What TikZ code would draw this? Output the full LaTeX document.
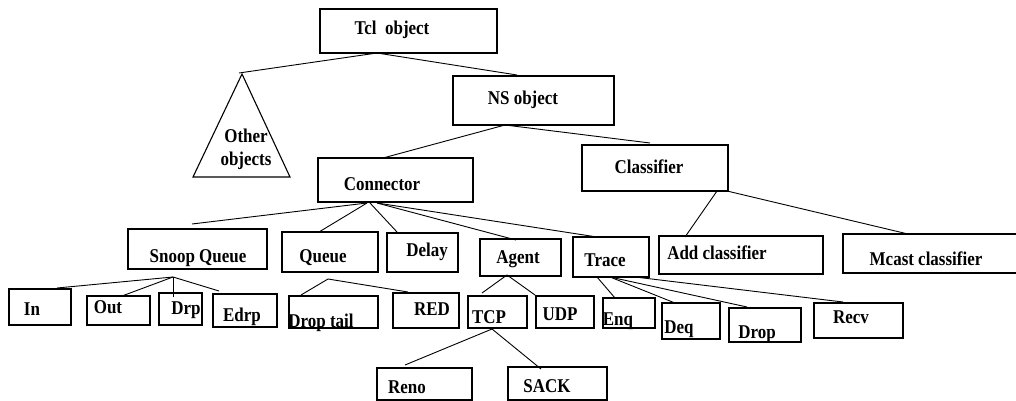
\documentclass[tikz,border=0pt]{standalone}
\usepackage{fontspec}
\setmainfont{Liberation Serif}[FakeStretch=0.87]
\usetikzlibrary{fit}
\tikzset{
  box/.style={draw=black, line width=1.1pt, inner sep=0pt},
  lbl/.style={anchor=base, inner sep=0pt, font=\fontsize{19.5}{20}\selectfont\bfseries, text=black},
  link/.style={draw=black, line width=0.9pt},
}
\begin{document}
\begin{tikzpicture}[x=1pt, y=-1pt]
\useasboundingbox (0,0) rectangle (1016,401);
\clip (0,0) rectangle (1016,401);

% ---------- boxes ----------
\node[box, fit={(320,9) (497,53)}]   (tcl) {};
\node[box, fit={(453,76) (614,125)}] (ns) {};
\node[box, fit={(318,158) (473,202)}] (conn) {};
\node[box, fit={(582,145) (728,191)}] (clsf) {};

\node[box, fit={(128,229) (267,269)}] (snoop) {};
\node[box, fit={(282,232) (378,272)}] (queue) {};
\node[box, fit={(387,233) (458,272)}] (delay) {};
\node[box, fit={(480,239) (561,276)}] (agent) {};
\node[box, fit={(573,237) (649,277)}] (trace) {};
\node[box, fit={(659,236) (823,274)}] (addc) {};
\node[box, fit={(843,234) (1030,273)}] (mcast) {};

\node[box, fit={(9,289) (71,325)}]    (in) {};
\node[box, fit={(87,296) (150,325)}]  (out) {};
\node[box, fit={(159,293) (202,325)}] (drp) {};
\node[box, fit={(213,294) (277,327)}] (edrp) {};
\node[box, fit={(289,296) (378,328)}] (droptail) {};
\node[box, fit={(393,293) (459,328)}] (red) {};
\node[box, fit={(468,296) (527,328)}] (tcp) {};
\node[box, fit={(536,296) (594,328)}] (udp) {};
\node[box, fit={(603,298) (655,328)}] (enq) {};
\node[box, fit={(662,303) (720,339)}] (deq) {};
\node[box, fit={(729,308) (801,342)}] (drop) {};
\node[box, fit={(814,303) (903,338)}] (recv) {};
\node[box, fit={(377,368) (472,400)}] (reno) {};
\node[box, fit={(508,367) (607,400)}] (sack) {};

% the "other objects" triangle
\coordinate (oth-apex) at (242,74);
\coordinate (oth-l) at (193,177);
\coordinate (oth-r) at (290,177);
\draw[line width=1.1pt, line join=miter] (oth-apex) -- (oth-l) -- (oth-r) -- cycle;

% ---------- labels ----------
\node[lbl] (tcl-t)   at (392,35)  {Tcl\ \ object};
\node[lbl] (ns-t)    at (523,105) {NS object};
\node[lbl] (oth-t1)  at (246,142) {Other};
\node[lbl] (oth-t2)  at (246,165) {objects};
\node[lbl] (conn-t)  at (382,190) {Connector};
\node[lbl] (clsf-t)  at (649,173) {Classifier};

\node[lbl] (snoop-t) at (198,262) {Snoop Queue};
\node[lbl] (queue-t) at (323,262) {Queue};
\node[lbl] (delay-t) at (427,256) {Delay};
\node[lbl] (agent-t) at (518,263) {Agent};
\node[lbl] (trace-t) at (605,266) {Trace};
\node[lbl] (addc-t)  at (717,259) {Add classifier};
\node[lbl] (mcast-t) at (926,265) {Mcast classifier};

\node[lbl] (in-t)    at (32,315)  {In};
\node[lbl] (out-t)   at (108,313) {Out};
\node[lbl] (drp-t)   at (186,314) {Drp};
\node[lbl] (edrp-t)  at (242,321) {Edrp};
\node[lbl] (dt-t)    at (321,327) {Drop tail};
\node[lbl] (red-t)   at (432,315) {RED};
\node[lbl] (tcp-t)   at (489,323) {TCP};
\node[lbl] (udp-t)   at (560,320) {UDP};
\node[lbl] (enq-t)   at (618,325) {Enq};
\node[lbl] (deq-t)   at (679,333) {Deq};
\node[lbl] (drop-t)  at (757,338) {Drop};
\node[lbl] (recv-t)  at (851,323) {Recv};
\node[lbl] (reno-t)  at (407,393) {Reno};
\node[lbl] (sack-t)  at (547,392) {SACK};

% ---------- junction points ----------
\coordinate (tcl-j)   at (377,53);
\coordinate (oth-j)   at (239,73);
\coordinate (ns-in)   at (517,75);
\coordinate (ns-j)    at (505,125);
\coordinate (conn-in) at (383,158);
\coordinate (clsf-in) at (650,143);
\coordinate (conn-j1) at (367,203);
\coordinate (conn-j2) at (370,203);
\coordinate (conn-j3) at (377,203);
\coordinate (snoop-in) at (192,224);
\coordinate (queue-in) at (319,232);
\coordinate (delay-in) at (397,232);
\coordinate (agent-in) at (516,240);
\coordinate (trace-in) at (597,237);
\coordinate (clsf-j1) at (717,191);
\coordinate (clsf-j2) at (727,191);
\coordinate (addc-in) at (685,237);
\coordinate (mcast-in) at (908,234);
\coordinate (snoop-j) at (173,277);
\coordinate (in-in)   at (57,288);
\coordinate (out-in)  at (122,296);
\coordinate (drp-in)  at (173,297);
\coordinate (edrp-in) at (219,291);
\coordinate (queue-j) at (328,279);
\coordinate (dt-in)   at (301,295);
\coordinate (red-in)  at (408,292);
\coordinate (agent-j) at (507,275);
\coordinate (tcp-in)  at (482,293);
\coordinate (udp-in)  at (535,295);
\coordinate (tcp-j)   at (492,329);
\coordinate (reno-in) at (405,365);
\coordinate (sack-in) at (541,369);
\coordinate (trace-j1) at (597,277);
\coordinate (trace-j2) at (610,277);
\coordinate (trace-j3) at (635,277);
\coordinate (enq-in)  at (615,298);
\coordinate (deq-in)  at (675,303);
\coordinate (drop-in) at (747,307);
\coordinate (recv-in) at (843,302);

% ---------- connectors ----------
\path[link] (oth-j) -- (tcl-j) -- (ns-in);
\path[link] (conn-in) -- (ns-j) -- (clsf-in);
\path[link] (conn-j1) -- (snoop-in);
\path[link] (conn-j1) -- (queue-in);
\path[link] (conn-j2) -- (delay-in);
\path[link] (conn-j3) -- (agent-in);
\path[link] (conn-j3) -- (trace-in);
\path[link] (clsf-j1) -- (addc-in);
\path[link] (clsf-j2) -- (mcast-in);
\path[link] (snoop-j) -- (in-in);
\path[link] (snoop-j) -- (out-in);
\path[link] (snoop-j) -- (drp-in);
\path[link] (snoop-j) -- (edrp-in);
\path[link] (queue-j) -- (dt-in);
\path[link] (queue-j) -- (red-in);
\path[link] (agent-j) -- (tcp-in);
\path[link] (agent-j) -- (udp-in);
\path[link] (tcp-j) -- (reno-in);
\path[link] (tcp-j) -- (sack-in);
\path[link] (trace-j1) -- (enq-in);
\path[link] (trace-j2) -- (deq-in);
\path[link] (trace-j2) -- (drop-in);
\path[link] (trace-j3) -- (recv-in);
\end{tikzpicture}
\end{document}
